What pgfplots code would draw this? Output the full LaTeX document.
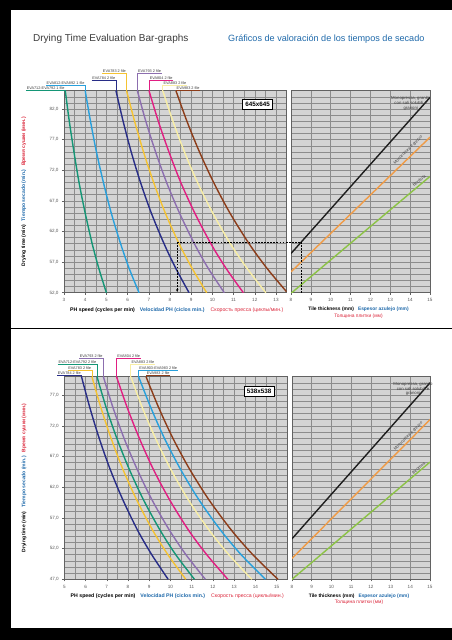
\documentclass[border=0pt]{standalone}
\usepackage{pgfplots}
\pgfplotsset{compat=1.18}
\usepackage{fontspec}
\setmainfont{Liberation Sans}
\usetikzlibrary{arrows.meta}
\definecolor{bgGray}{RGB}{212,212,212}
\definecolor{gridGray}{RGB}{140,140,140}
\definecolor{tickGray}{RGB}{90,90,90}
\definecolor{labGray}{RGB}{60,60,60}
\definecolor{cTeal}{RGB}{20,150,118}
\definecolor{cBlue}{RGB}{40,160,220}
\definecolor{cNavy}{RGB}{40,45,135}
\definecolor{cGold}{RGB}{245,195,50}
\definecolor{cPurple}{RGB}{140,110,175}
\definecolor{cMagenta}{RGB}{225,30,130}
\definecolor{cCream}{RGB}{248,238,165}
\definecolor{cBrown}{RGB}{140,60,25}
\definecolor{rBlack}{RGB}{30,30,30}
\definecolor{rOrange}{RGB}{240,155,70}
\definecolor{rGreen}{RGB}{140,195,70}
\definecolor{tBlue}{RGB}{30,105,170}
\definecolor{tRed}{RGB}{220,40,60}
\newcommand{\labfont}{\fontsize{3.8}{4.2}\selectfont}
\newcommand{\tickfont}{\fontsize{4.6}{5}\selectfont}
% color, xtop, ylab, ytop, text
\newcommand{\leftlab}[5]{%
  \node[anchor=south east, inner xsep=0.6pt, inner ysep=0.5pt, font=\labfont, text=labGray] (L) at (axis cs:#2,#3) {#5};
  \draw[#1, line width=0.7pt] (L.south west) -- (axis cs:#2,#3) -- (axis cs:#2,#4);
}
\newcommand{\rightlab}[5]{%
  \node[anchor=south west, inner xsep=0.6pt, inner ysep=0.5pt, font=\labfont, text=labGray] (L) at (axis cs:#2,#3) {#5};
  \draw[#1, line width=0.7pt] (L.south east) -- (axis cs:#2,#3) -- (axis cs:#2,#4);
}
\pgfplotsset{
  chartgrid/.style={
    scale only axis,
    axis background/.style={fill=bgGray},
    grid=both,
    major grid style={gridGray, line width=0.55pt},
    minor grid style={gridGray, line width=0.55pt},
    axis line style={gridGray!70!black, line width=0.6pt},
    tick style={gridGray!70!black, line width=0.5pt},
    major tick length=2pt,
    minor tick length=0pt,
    tick align=outside,
    xtick pos=bottom, ytick pos=left,
    ticklabel style={font=\tickfont, text=tickGray},
    /pgf/number format/assume math mode=true,
    clip mode=individual,
  },
  curve/.style={line width=1.4pt, smooth, no marks},
  yfmt/.style={yticklabel style={/pgf/number format/.cd, fixed, fixed zerofill, precision=1, use comma}},
  leftxlabel/.style={
    xlabel={{\bfseries\color{black}PH speed (cycles per min)}\hspace{5pt}{\bfseries\color{tBlue}Velocidad PH (ciclos min.)}\hspace{6pt}{\color{tRed}Скорость пресса (циклы/мин.)}},
    xlabel style={font=\fontsize{5.2}{6}\selectfont, at={(axis description cs:0.5,0)}, anchor=center, xshift=1.5pt, yshift=-17pt}
  },
  rightxlabel/.style={
    xlabel={{\bfseries\color{black}Tile thickness (mm)}\hspace{4pt}{\bfseries\color{tBlue}Espesor azulejo (mm)}\\{\color{tRed}Толщина плитки (мм)}},
    xlabel style={font=\fontsize{4.9}{6.4}\selectfont, align=center, at={(axis description cs:0.5,0)}, anchor=center, xshift=-2pt, yshift=-20pt}
  },
}
\newcommand{\ylab}{\node[rotate=90, font=\bfseries\fontsize{5}{5.5}\selectfont] at (rel axis cs:-0.18,0.5) {{\color{black}Drying time (min)}\hspace{4pt}{\color{tBlue}Tiempo secado (min.)}\hspace{4pt}{\color{tRed}Время сушки (мин.)}};}
\newcommand{\rtext}[6]{% monoy, orangex, orangey, greenx, greeny, monox
  \node[font=\fontsize{4.3}{4.9}\selectfont, text=labGray, align=center] at (axis cs:#6,#1) {Monopressa, granito\\con sali solubili e\\granoni};
  \node[font=\fontsize{4.0}{4.6}\selectfont, text=labGray, rotate=45, inner sep=0.3pt] at (axis cs:#2,#3) {Monocottura e grezzo};
  \node[font=\fontsize{4.0}{4.6}\selectfont, text=labGray, rotate=41, inner sep=0.3pt] at (axis cs:#4,#5) {Bicottura};
}
\begin{document}
\begin{tikzpicture}
\useasboundingbox (0,0) rectangle (452pt,-640pt);
\fill[white] (0,0) rectangle (452pt,-640pt);
\fill[black] (0,0) rectangle (452pt,-10pt);
\fill[black] (0,0) rectangle (11pt,-640pt);
\fill[black] (0,-628pt) rectangle (452pt,-640pt);
\fill[black] (11pt,-327.6pt) rectangle (452pt,-329.4pt);
\node[anchor=base west, inner sep=0pt, font=\fontsize{10}{12}\selectfont, text=labGray] at (33pt,-41.8pt) {Drying Time Evaluation Bar-graphs};
\node[anchor=base west, inner sep=0pt, font=\fontsize{9.1}{11}\selectfont, text=tBlue] at (228pt,-41.8pt) {Gráficos de valoración de los tiempos de secado};

% ===== TOP LEFT =====
\begin{axis}[chartgrid, yfmt, leftxlabel, at={(64pt,-292.7pt)}, anchor=south west,
  width=222.6pt, height=202pt, xmin=3, xmax=13.5, ymin=52, ymax=85,
  xtick={3,...,13}, minor x tick num=1,
  ytick={52,57,...,82}, minor ytick={52,...,85}]
\addplot[curve, cTeal] coordinates {(3.06,85) (3.25,80) (3.47,75) (3.71,70) (4.00,65) (4.33,60) (4.64,56) (5.00,52)};
\addplot[curve, cBlue] coordinates {(4.00,85) (4.25,80) (4.53,75) (4.86,70) (5.23,65) (5.67,60) (6.07,56) (6.54,52)};
\addplot[curve, cNavy] coordinates {(5.45,85) (5.79,80) (6.17,75) (6.61,70) (7.12,65) (7.72,60) (8.27,56) (8.90,52)};
\addplot[curve, cGold] coordinates {(5.95,85) (6.33,80) (6.75,75) (7.23,70) (7.78,65) (8.43,60) (9.04,56) (9.73,52)};
\addplot[curve, cPurple] coordinates {(6.46,85) (6.86,80) (7.32,75) (7.84,70) (8.45,65) (9.15,60) (9.80,56) (10.56,52)};
\addplot[curve, cMagenta] coordinates {(7.01,85) (7.45,80) (7.95,75) (8.51,70) (9.17,65) (9.93,60) (10.64,56) (11.46,52)};
\addplot[curve, cCream] coordinates {(7.66,85) (8.14,80) (8.68,75) (9.30,70) (10.02,65) (10.85,60) (11.63,56) (12.52,52)};
\addplot[curve, cBrown] coordinates {(8.28,85) (8.80,80) (9.39,75) (10.06,70) (10.83,65) (11.73,60) (12.57,56) (13.50,52.15)};
\leftlab{cTeal}{3.06}{85.1}{85}{EVA712-EVA792 1 file}
\leftlab{cBlue}{4.00}{85.95}{85}{EVA812-EVA892 1 file}
\leftlab{cNavy}{5.45}{86.77}{85}{EVA784 2 file}
\leftlab{cGold}{5.95}{87.91}{85}{EVA783 2 file}
\rightlab{cPurple}{6.46}{87.91}{85}{EVA793 2 file}
\rightlab{cMagenta}{7.01}{86.77}{85}{EVA804 2 file}
\rightlab{cCream}{7.66}{85.95}{85}{EVA883 2 file}
\rightlab{cBrown}{8.28}{85.1}{85}{EVA983 2 file}
\node[draw=black, fill=white, line width=0.6pt, font=\bfseries\fontsize{6.3}{7}\selectfont, inner xsep=2.5pt, inner ysep=2.5pt] at (axis cs:12.13,82.8) {645x645};
\coordinate (dA) at (axis cs:8.34,60.3);
\draw[black, line width=0.6pt, dash pattern=on 1.8pt off 1.3pt, -{Stealth[length=3pt,width=2.4pt]}] (axis cs:8.34,60.3) -- (axis cs:8.34,52.1);
\ylab
\end{axis}

% ===== TOP RIGHT =====
\begin{axis}[chartgrid, rightxlabel, at={(291pt,-292.7pt)}, anchor=south west,
  width=139pt, height=202pt, xmin=8, xmax=15, ymin=52, ymax=85,
  xtick={8,...,15}, ytick={52,...,85}, yticklabels={}, ytick style={draw=none}]
\addplot[line width=1.4pt, rBlack, no marks] coordinates {(8,58.4) (15,83.9)};
\addplot[line width=1.4pt, rOrange, no marks] coordinates {(8,55.4) (15,77.4)};
\addplot[line width=1.4pt, rGreen, no marks] coordinates {(8,51.9) (15,71.0)};
\rtext{82.9}{13.9}{75.3}{14.45}{70.3}{14.03}
\coordinate (dB) at (axis cs:8.52,60.3);
\draw[black, line width=0.6pt, dash pattern=on 1.8pt off 1.3pt] (axis cs:8.52,60.3) -- (axis cs:8.52,52);
\end{axis}
\draw[black, line width=0.6pt, dash pattern=on 1.8pt off 1.3pt] (dA) -- (dB);

% ===== BOTTOM LEFT =====
\begin{axis}[chartgrid, yfmt, leftxlabel, at={(64.3pt,-579.3pt)}, anchor=south west,
  width=223pt, height=202.6pt, xmin=5, xmax=15.5, ymin=47, ymax=80,
  xtick={5,...,15}, minor x tick num=1,
  ytick={47,52,...,77}, minor ytick={47,...,80}]
\addplot[curve, cNavy] coordinates {(5.81,80) (6.20,75) (6.64,70) (7.15,65) (7.75,60) (8.45,55) (9.12,51) (9.89,47)};
\addplot[curve, cGold] coordinates {(6.30,80) (6.72,75) (7.20,70) (7.75,65) (8.40,60) (9.16,55) (9.88,51) (10.72,47)};
\addplot[curve, cTeal] coordinates {(6.54,80) (6.97,75) (7.47,70) (8.05,65) (8.72,60) (9.51,55) (10.25,51) (11.13,47)};
\addplot[curve, cPurple] coordinates {(6.84,80) (7.29,75) (7.81,70) (8.42,65) (9.12,60) (9.95,55) (10.73,51) (11.64,47)};
\addplot[curve, cMagenta] coordinates {(7.46,80) (7.96,75) (8.53,70) (9.18,65) (9.95,60) (10.85,55) (11.71,51) (12.70,47)};
\addplot[curve, cCream] coordinates {(8.13,80) (8.67,75) (9.29,70) (10.00,65) (10.83,60) (11.82,55) (12.75,51) (13.83,47)};
\addplot[curve, cBlue] coordinates {(8.50,80) (9.07,75) (9.71,70) (10.46,65) (11.33,60) (12.36,55) (13.33,51) (14.47,47)};
\addplot[curve, cBrown] coordinates {(8.85,80) (9.44,75) (10.11,70) (10.89,65) (11.80,60) (12.87,55) (13.88,51) (15.06,47)};
\leftlab{cPurple}{6.84}{82.98}{80}{EVA793 2 file}
\leftlab{cTeal}{6.54}{82.08}{80}{EVA712-EVA792 2 file}
\leftlab{cGold}{6.30}{81.1}{80}{EVA783 2 file}
\leftlab{cNavy}{5.81}{80.2}{80}{EVA784 2 file}
\rightlab{cMagenta}{7.46}{82.98}{80}{EVA804 2 file}
\rightlab{cCream}{8.13}{82.08}{80}{EVA883 2 file}
\rightlab{cBlue}{8.50}{81.1}{80}{EVA903-EVA983 2 file}
\rightlab{cBrown}{8.85}{80.2}{80}{EVA983 2 file}
\node[draw=black, fill=white, line width=0.6pt, font=\bfseries\fontsize{6.3}{7}\selectfont, inner xsep=2.5pt, inner ysep=2.5pt] at (axis cs:14.17,77.65) {538x538};
\ylab
\end{axis}

% ===== BOTTOM RIGHT =====
\begin{axis}[chartgrid, rightxlabel, at={(292pt,-579.3pt)}, anchor=south west,
  width=138pt, height=202.6pt, xmin=8, xmax=15, ymin=47, ymax=80,
  xtick={8,...,15}, ytick={47,...,80}, yticklabels={}, ytick style={draw=none}]
\addplot[line width=1.4pt, rBlack, no marks] coordinates {(8,53.6) (15,79.0)};
\addplot[line width=1.4pt, rOrange, no marks] coordinates {(8,50.4) (15,73.0)};
\addplot[line width=1.4pt, rGreen, no marks] coordinates {(8,47.0) (15,66.1)};
\rtext{78.0}{13.9}{70.3}{14.42}{65.1}{14.14}
\end{axis}
\end{tikzpicture}
\end{document}
